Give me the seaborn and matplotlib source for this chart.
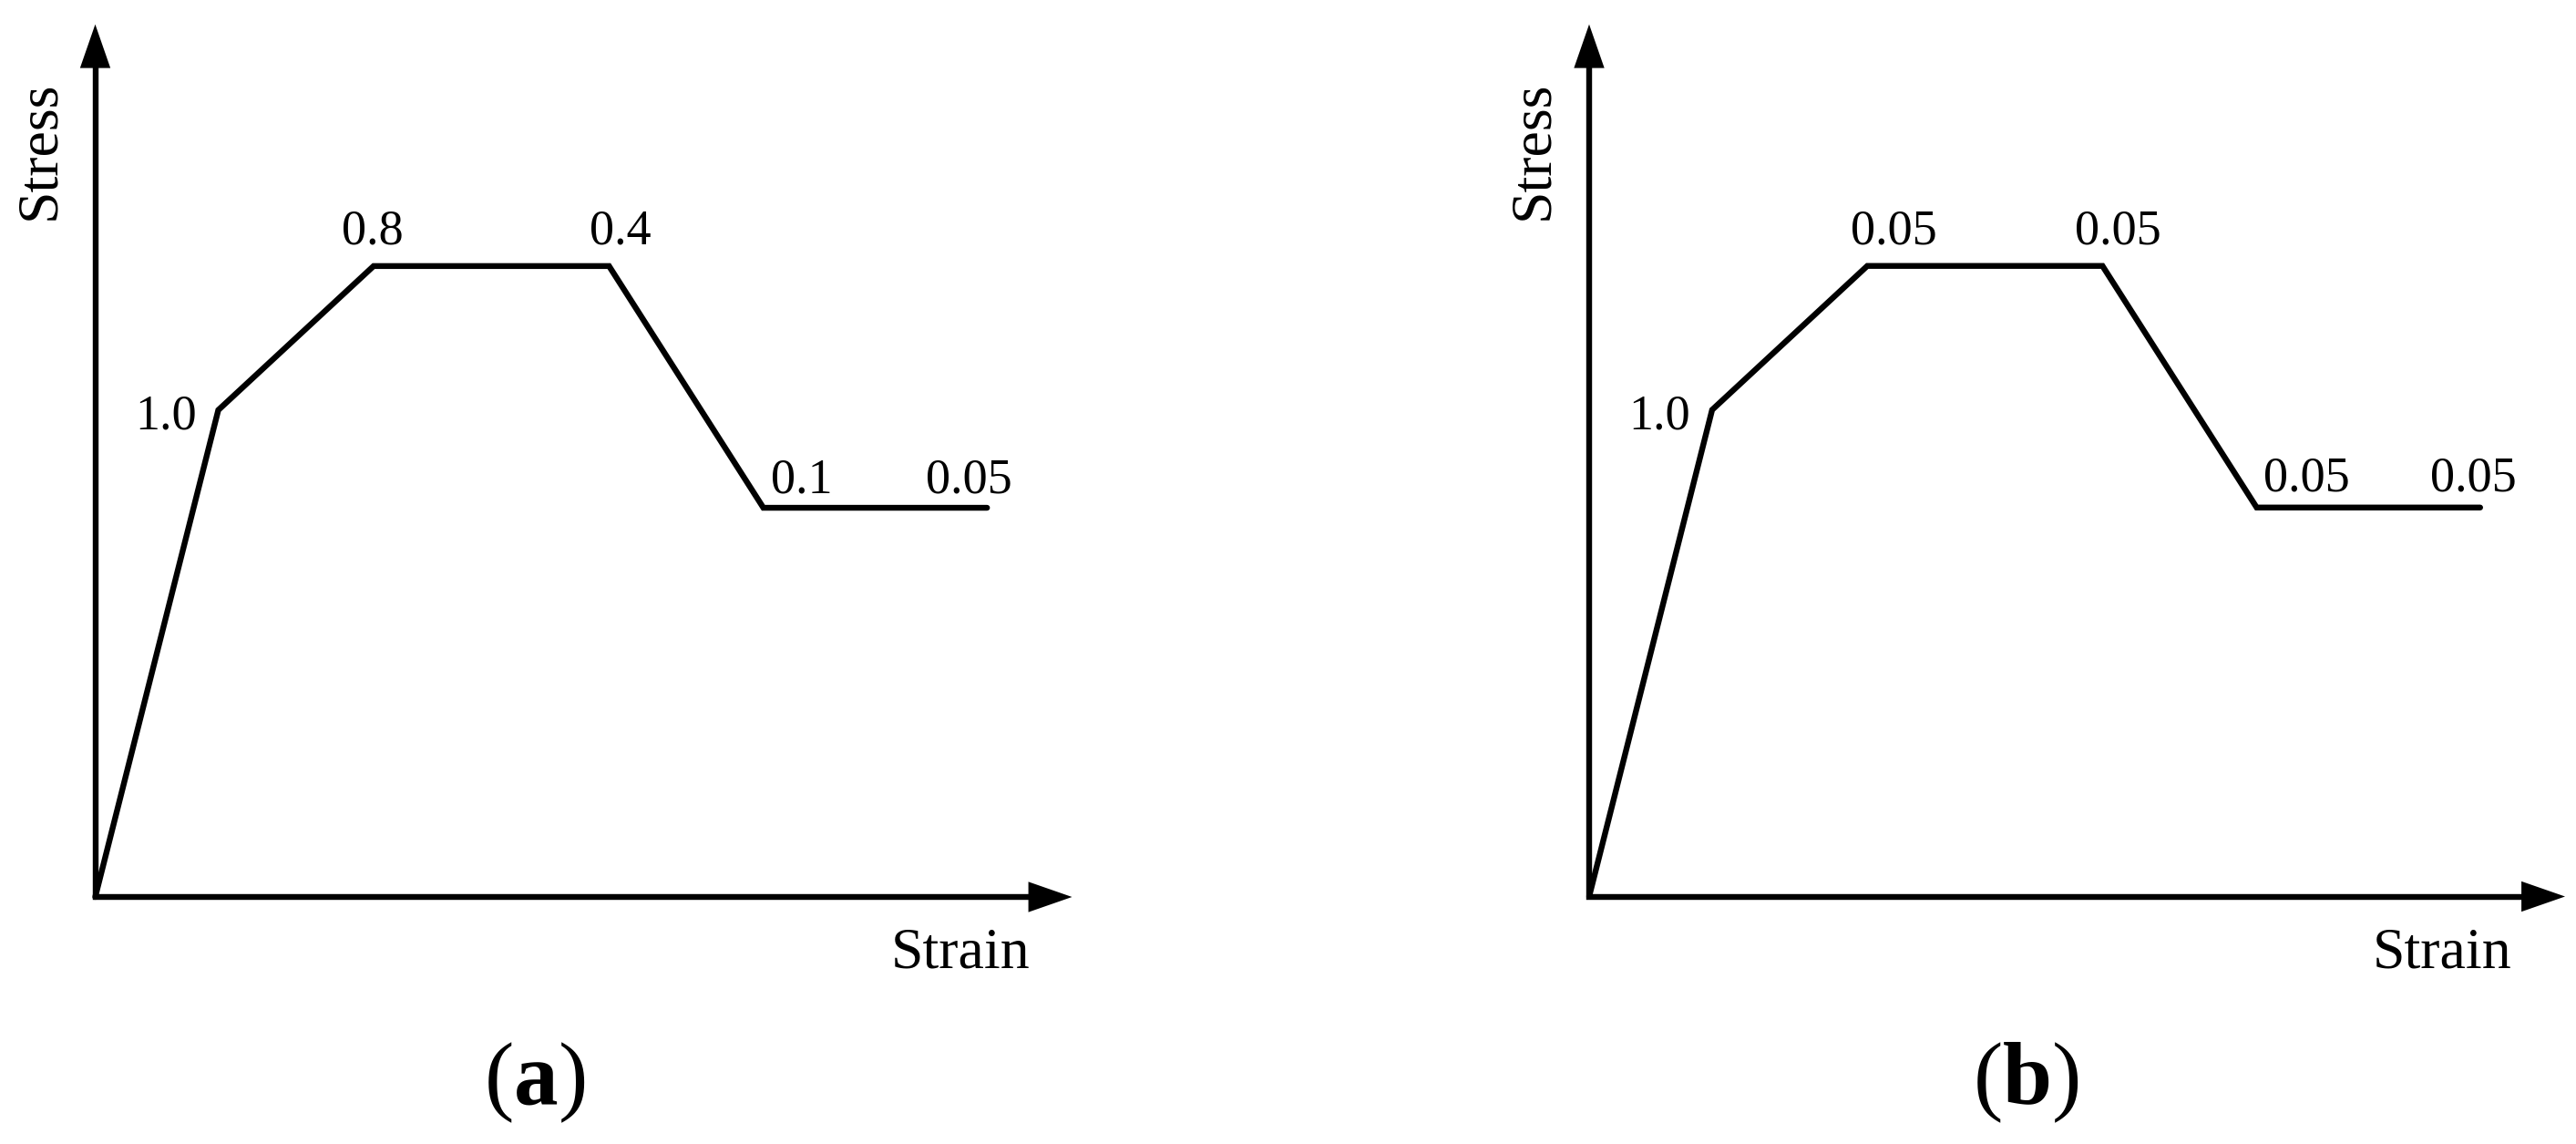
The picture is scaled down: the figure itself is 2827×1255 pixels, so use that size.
import matplotlib
matplotlib.use("Agg")
import matplotlib.pyplot as plt
import seaborn as sns
import pandas as pd

# ---- data (normalized strain / stress, axes run 0..10) ----
strain = [0.0, 1.26, 2.85, 5.26, 6.84, 9.13]
stress = [0.0, 5.58, 7.23, 7.23, 4.46, 4.46]
labels_a = ["1.0", "0.8", "0.4", "0.1", "0.05"]
labels_b = ["1.0", "0.05", "0.05", "0.05", "0.05"]
panel_tags = ["a", "b"]
x_label = "Strain"
y_label = "Stress"

# ---- styling ----
sns.set_theme(style="white")
plt.rcParams["font.family"] = ["Liberation Serif", "DejaVu Serif"]
plt.rcParams["mathtext.fontset"] = "custom"
plt.rcParams["mathtext.rm"] = "Liberation Serif"
plt.rcParams["mathtext.bf"] = "Liberation Serif:bold"

W, H = 2827, 1255
DPI = 100
fig = plt.figure(figsize=(W / DPI, H / DPI), dpi=DPI)
fig.patch.set_facecolor("white")

LW = 4.6
NUM_FS = 39
AX_FS = 46
TAG_FS = 70

# per-panel layout in pixels: origin x, origin y, x-tip, y-tip
panels = [
    dict(ox=104.5, oy=984.0, tipx=1176.5, tipy=26.7, labels=labels_a,
         offsets=[(-58, -21), (-1, 24), (12, 24), (42, 17), (-20, 17)],
         stress_x=73, strain_right=1130, tag_x=587),
    dict(ox=1744.0, oy=983.5, tipx=2815.0, tipy=26.7, labels=labels_b,
         offsets=[(-58, -21), (29, 24), (17, 24), (55, 18), (-7, 18)],
         stress_x=1712, strain_right=2757, tag_x=2223),
]

for p, tag in zip(panels, panel_tags):
    left = p["ox"] / W
    bottom = (H - p["oy"]) / H
    width = (p["tipx"] - p["ox"]) / W
    height = (p["oy"] - p["tipy"]) / H
    ax = fig.add_axes([left, bottom, width, height])
    ax.set_xlim(0, 10)
    ax.set_ylim(0, 10)
    ax.set_axis_off()

    # axes lines (L shape) stopping under the arrow heads
    ax.plot([0, 0, 9.7], [9.7, 0, 0], color="black", lw=LW,
            solid_joinstyle="miter", solid_capstyle="butt", clip_on=False)
    # arrow heads
    for xy in [(10, 0), (0, 10)]:
        start = (9.0, 0) if xy[0] == 10 else (0, 9.0)
        ax.annotate("", xy=xy, xytext=start,
                    arrowprops=dict(arrowstyle="-|>,head_length=3.45,head_width=1.2",
                                    mutation_scale=10, lw=0, color="black",
                                    shrinkA=0, shrinkB=0),
                    annotation_clip=False)

    # stress-strain curve
    df = pd.DataFrame({"strain": strain, "stress": stress})
    sns.lineplot(data=df, x="strain", y="stress", ax=ax, sort=False,
                 color="black", lw=LW, estimator=None)
    for line in ax.lines[-1:]:
        line.set_solid_joinstyle("miter")
        line.set_clip_on(False)
    ax.set_axis_off()

    # point labels
    for (xv, yv), lab, (dx, dy) in zip(list(zip(strain, stress))[1:],
                                       p["labels"], p["offsets"]):
        ax.annotate(lab, xy=(xv, yv), xytext=(dx, dy), textcoords="offset pixels",
                    ha="center", va="baseline", fontsize=NUM_FS, color="black",
                    annotation_clip=False)

    # axis titles
    fig.text(p["stress_x"] / W, 1 - 164.5 / H, y_label, rotation=90,
             ha="right", va="center", fontsize=AX_FS, color="black")
    fig.text(p["strain_right"] / W, 1 - 1061.7 / H, x_label,
             ha="right", va="baseline", fontsize=AX_FS, color="black")
    # panel tag
    fig.text(p["tag_x"] / W, 1 - 1211.7 / H, r"($\mathbf{" + tag + r"}$)",
             ha="center", va="baseline", fontsize=TAG_FS, color="black")

fig.savefig("out.png", dpi=DPI, facecolor="white")
